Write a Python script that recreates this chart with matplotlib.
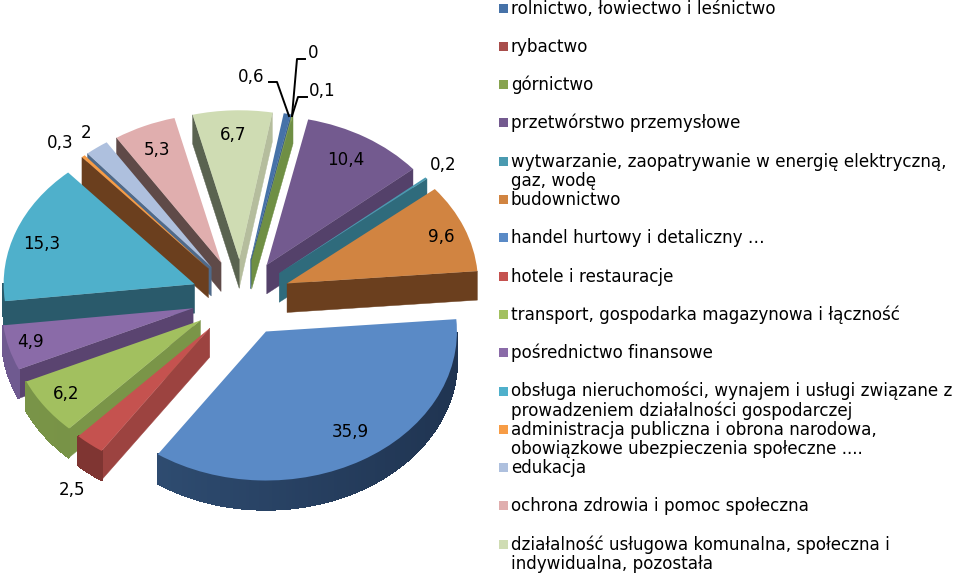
import numpy as np
import matplotlib
matplotlib.use("Agg")
import matplotlib.pyplot as plt
from matplotlib.colors import to_rgb
from matplotlib.patches import Rectangle

W, H = 955, 573

# dane
categories = [
    "rolnictwo, łowiectwo i leśnictwo",
    "rybactwo",
    "górnictwo",
    "przetwórstwo przemysłowe",
    "wytwarzanie, zaopatrywanie w energię elektryczną,\ngaz, wodę",
    "budownictwo",
    "handel hurtowy i detaliczny …",
    "hotele i restauracje",
    "transport, gospodarka magazynowa i łączność",
    "pośrednictwo finansowe",
    "obsługa nieruchomości, wynajem i usługi związane z\nprowadzeniem działalności gospodarczej",
    "administracja publiczna i obrona narodowa,\nobowiązkowe ubezpieczenia społeczne ....",
    "edukacja",
    "ochrona zdrowia i pomoc społeczna",
    "działalność usługowa komunalna, społeczna i\nindywidualna, pozostała",
]
values = [0.6, 0, 0.1, 10.4, 0.2, 9.6, 35.9, 2.5, 6.2, 4.9, 15.3, 0.3, 2, 5.3, 6.7]

# kolory
top_colors = ["#4672a8", "#a84d4b", "#87a34f", "#735a8f", "#4a9ab0", "#d18441", "#5a8ac6", "#c5524f",
              "#a2c05f", "#8a6ba8", "#4fb0cb", "#f79c45", "#aec0de", "#e0aeae", "#cfdcb3"]
cut_colors = ["#3a5f8a", "#7f3532", "#6f8f44", "#54416a", "#2f6b7c", "#6b3f1e", "#2f5078", "#9c4340",
              "#7a9548", "#5a4470", "#2a5a6b", "#6b3f1e", "#4f6a8a", "#5f4a48", "#5a6350"]
right_cut_colors = ["#3a5f8a", "#7f3532", "#6f8f44", "#54416a", "#2f6b7c", "#6b3f1e", "#2f5078", "#9c4340",
                    "#7a9548", "#5a4470", "#2a5a6b", "#6b3f1e", "#4f6a8a", "#5f4a48", "#b5bd9d"]
rim_left = ["#3a5f8a", "#7f3532", "#6f8f44", "#54416a", "#2f6b7c", "#6b3f1e", "#35577f", "#7f3532",
            "#7a9548", "#6f5a90", "#2a5a6b", "#6b3f1e", "#4f6a8a", "#5f4a48", "#b5bd9d"]
rim_right = ["#3a5f8a", "#7f3532", "#6f8f44", "#54416a", "#2f6b7c", "#6b3f1e", "#1f3350", "#7f3532",
             "#6b8540", "#5f4c7d", "#2a5a6b", "#6b3f1e", "#4f6a8a", "#5f4a48", "#b5bd9d"]

# uklad w pikselach
cx, cy = 241, 298
rx, ry = 191, 149
depth = 29 / ry
explode = 0.26
font_size = 12.1

# pozycje etykiet, w kolejnosci wartosci
label_pos = [(251, 77), (313, 53), (322, 91), (346, 160), (443, 165), (441, 237), (350, 432), (72, 490),
             (66, 394), (30, 342), (42, 244), (60, 143), (86, 133), (157, 150), (233, 135)]
leaders = [
    [(269, 82), (277, 82), (289, 116)],
    [(305, 59), (297, 59), (292, 116)],
    [(307, 97), (298, 97), (292, 116)],
]


def fig_xy(x, y):
    return x / W, 1 - y / H


fig = plt.figure(figsize=(W / 100, H / 100), dpi=100)
ax = fig.add_axes([0, 0, 1, 1])
wedges, _ = ax.pie(values, explode=[explode] * len(values), startangle=80, counterclock=False,
                   colors=top_colors, wedgeprops={"linewidth": 0})
ax.set_aspect("auto")
ax.set_xlim(-cx / rx, (W - cx) / rx)
ax.set_ylim(-(H - cy) / ry, cy / ry)


def side_face(c, t, color, z):
    px = c[0] + np.cos(np.radians(t))
    py = c[1] + np.sin(np.radians(t))
    ax.fill([c[0], px, px, c[0]], [c[1], py, py - depth, c[1] - depth], color=color, lw=0.3, zorder=z)


# od tylu do przodu
order = sorted(range(len(values)), key=lambda i: -wedges[i].center[1])
z = 2
for i in order:
    w = wedges[i]
    if values[i] == 0:
        w.set_visible(False)
        continue
    c = w.center
    t1, t2 = w.theta1, w.theta2
    # krawedzie przekroju
    if np.cos(np.radians(t1)) > 0:
        side_face(c, t1, right_cut_colors[i], z)
    if np.cos(np.radians(t2)) < 0:
        side_face(c, t2, cut_colors[i], z)
    # obrzeze, tylko dolna polowa
    a, b = np.array(to_rgb(rim_left[i])), np.array(to_rgb(rim_right[i]))
    ts = np.linspace(t1, t2, int(t2 - t1) + 2)
    for t0, t3 in zip(ts[:-1], ts[1:]):
        if np.sin(np.radians((t0 + t3) / 2)) > 0:
            continue
        xa, xb = np.cos(np.radians([t0, t3])) + c[0]
        ya, yb = np.sin(np.radians([t0, t3])) + c[1]
        f = np.clip(((xa + xb) / 2 + 1.2) / 2.4, 0, 1)
        ax.fill([xa, xb, xb, xa], [ya, yb, yb - depth, ya - depth], color=a + (b - a) * f,
                lw=1, zorder=z, antialiased=False)
    w.set_zorder(z + 0.5)
    z += 1

# etykiety
for val, (x, y) in zip(values, label_pos):
    fx, fy = fig_xy(x, y)
    fig.text(fx, fy, str(val).replace(".", ","), ha="center", va="center", fontsize=font_size, zorder=50)

for line in leaders:
    pts = np.array([fig_xy(*p) for p in line])
    ax.plot(pts[:, 0], pts[:, 1], color="black", lw=1.4, transform=fig.transFigure, zorder=60, clip_on=False)

# legenda
for i, name in enumerate(categories):
    y = 8 + i * 38.3
    fx, fy = fig_xy(499, y + 4.5)
    fig.add_artist(Rectangle((fx, fy), 9 / W, 9 / H, transform=fig.transFigure,
                             facecolor=top_colors[i], edgecolor="none"))
    for k, part in enumerate(name.split("\n")):
        tx, ty = fig_xy(511, y + 5.5 + k * 19)
        fig.text(tx, ty, part, ha="left", va="baseline", fontsize=font_size, color="black")

fig.savefig("out.png", dpi=100)
